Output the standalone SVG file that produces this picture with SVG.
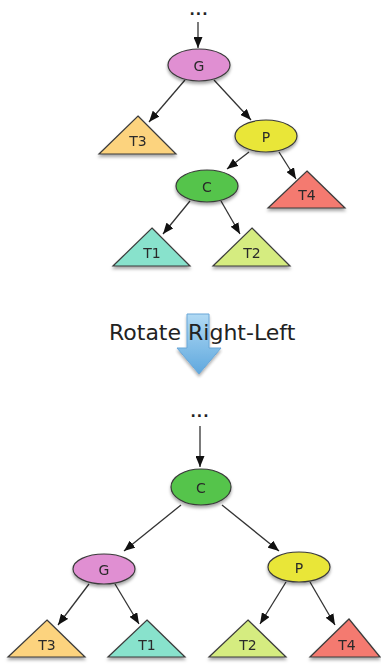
<svg xmlns="http://www.w3.org/2000/svg" width="381" height="664" viewBox="0 0 381 664">
<defs>
<style>
.lbl{font-family:"DejaVu Sans","Liberation Sans",sans-serif;font-size:14px;fill:#2a2a2a;text-anchor:middle;dominant-baseline:central}
.n{stroke:#3a3a3a;stroke-width:1.2}
.e{stroke:#333;stroke-width:1.3;fill:none;marker-end:url(#ah)}
.title{font-family:"DejaVu Sans","Liberation Sans",sans-serif;font-size:22px;fill:#222}
.dots{font-family:"DejaVu Sans","Liberation Sans",sans-serif;font-size:14px;font-weight:bold;fill:#222;text-anchor:middle;letter-spacing:1px}
</style>
<marker id="ah" viewBox="0 0 11 9" refX="11" refY="4.5" markerWidth="11" markerHeight="9" markerUnits="userSpaceOnUse" orient="auto">
<path d="M0,0 L11,4.5 L0,9 Z" fill="#111"/>
</marker>
<filter id="sh" x="-20%" y="-20%" width="140%" height="160%">
<feDropShadow dx="0" dy="2.5" stdDeviation="1.8" flood-color="#000" flood-opacity="0.35"/>
</filter>
<linearGradient id="bl" x1="0" y1="0" x2="0" y2="1">
<stop offset="0" stop-color="#a9d6f3"/>
<stop offset="1" stop-color="#4e9fdb"/>
</linearGradient>
</defs>

<g id="connectors">
<line class="e" x1="198" y1="22" x2="198" y2="48"/>
<line class="e" x1="185" y1="80" x2="149" y2="122"/>
<line class="e" x1="214" y1="80" x2="251" y2="120"/>
<line class="e" x1="249" y1="152" x2="227" y2="169"/>
<line class="e" x1="279" y1="152" x2="296" y2="179"/>
<line class="e" x1="190" y1="201" x2="163" y2="234"/>
<line class="e" x1="221" y1="201" x2="240" y2="234"/>

<line class="e" x1="200" y1="426" x2="200" y2="467"/>
<line class="e" x1="181" y1="505" x2="124" y2="551"/>
<line class="e" x1="222" y1="505" x2="279" y2="551"/>
<line class="e" x1="89" y1="584" x2="58" y2="625"/>
<line class="e" x1="115" y1="584" x2="139" y2="624"/>
<line class="e" x1="286" y1="582" x2="260" y2="624"/>
<line class="e" x1="310" y1="582" x2="335" y2="625"/>
</g>

<g id="top-dots"><text class="dots" x="199" y="15">...</text></g>

<g id="top-G" filter="url(#sh)">
<ellipse class="n" cx="199" cy="65" rx="31" ry="16" fill="#e08fd2"/>
<text class="lbl" x="199" y="66">G</text>
</g>
<g id="top-T3" filter="url(#sh)">
<polygon class="n" points="138,116 176,154 99,154" fill="#fcd37e"/>
<text class="lbl" x="138" y="141">T3</text>
</g>
<g id="top-P" filter="url(#sh)">
<ellipse class="n" cx="266" cy="136" rx="31" ry="16" fill="#e9e638"/>
<text class="lbl" x="266" y="137">P</text>
</g>
<g id="top-C" filter="url(#sh)">
<ellipse class="n" cx="207" cy="186" rx="31" ry="16" fill="#55c44b"/>
<text class="lbl" x="207" y="187">C</text>
</g>
<g id="top-T4" filter="url(#sh)">
<polygon class="n" points="307,171 345,208 268,208" fill="#f47a70"/>
<text class="lbl" x="307" y="195">T4</text>
</g>
<g id="top-T1" filter="url(#sh)">
<polygon class="n" points="152,228 190,266 113,266" fill="#88e2cc"/>
<text class="lbl" x="152" y="253">T1</text>
</g>
<g id="top-T2" filter="url(#sh)">
<polygon class="n" points="252,228 290,266 213,266" fill="#d5ec80"/>
<text class="lbl" x="252" y="253">T2</text>
</g>

<g id="rotate">
<path d="M187,314 L209,314 L209,348 L221,348 L199,374 L177,348 L187,348 Z" fill="url(#bl)" stroke="#5a9ed4" stroke-width="1" opacity="0.9" filter="url(#sh)"/>
<text class="title" x="109" y="340">Rotate Right-Left</text>
</g>

<g id="bottom-dots"><text class="dots" x="200" y="417">...</text></g>

<g id="bottom-C" filter="url(#sh)">
<ellipse class="n" cx="201" cy="487" rx="30" ry="18" fill="#55c44b"/>
<text class="lbl" x="201" y="488">C</text>
</g>
<g id="bottom-G" filter="url(#sh)">
<ellipse class="n" cx="104" cy="569" rx="31" ry="15" fill="#e08fd2"/>
<text class="lbl" x="104" y="570">G</text>
</g>
<g id="bottom-P" filter="url(#sh)">
<ellipse class="n" cx="299" cy="567" rx="31" ry="15" fill="#e9e638"/>
<text class="lbl" x="299" y="568">P</text>
</g>
<g id="bottom-T3" filter="url(#sh)">
<polygon class="n" points="47,620 85,657 8,657" fill="#fcd37e"/>
<text class="lbl" x="47" y="645">T3</text>
</g>
<g id="bottom-T1" filter="url(#sh)">
<polygon class="n" points="147,620 185,657 108,657" fill="#88e2cc"/>
<text class="lbl" x="147" y="645">T1</text>
</g>
<g id="bottom-T2" filter="url(#sh)">
<polygon class="n" points="248,620 286,657 209,657" fill="#d5ec80"/>
<text class="lbl" x="248" y="645">T2</text>
</g>
<g id="bottom-T4" filter="url(#sh)">
<polygon class="n" points="349,619 380,657 310,657" fill="#f47a70"/>
<text class="lbl" x="347" y="645">T4</text>
</g>
</svg>
